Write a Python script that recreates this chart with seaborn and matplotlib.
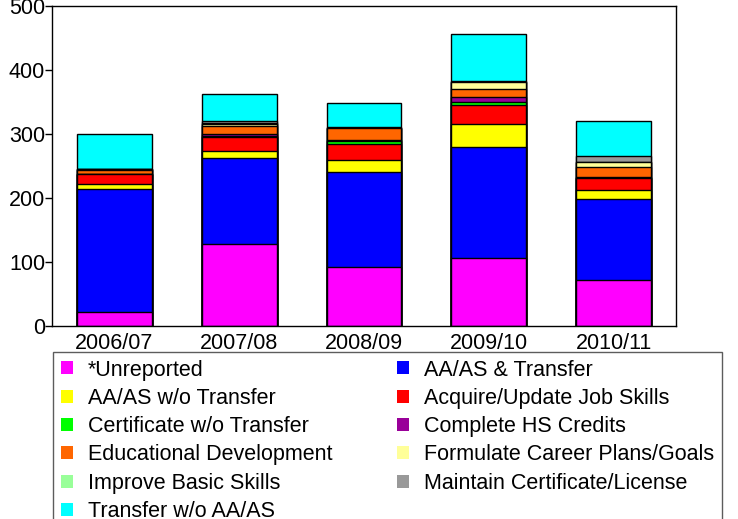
"""Stacked bars of students by educational goal, one bar per academic year."""

import matplotlib.pyplot as plt
import numpy as np
import seaborn as sns
from matplotlib.patches import Patch

years = ["2006/07", "2007/08", "2008/09", "2009/10", "2010/11"]

goal_names = [
    "*Unreported",
    "AA/AS & Transfer",
    "AA/AS w/o Transfer",
    "Acquire/Update Job Skills",
    "Certificate w/o Transfer",
    "Complete HS Credits",
    "Educational Development",
    "Formulate Career Plans/Goals",
    "Improve Basic Skills",
    "Maintain Certificate/License",
    "Transfer w/o AA/AS",
]

unreported = [22, 128, 92, 106, 72]
aa_transfer = [192, 134, 148, 174, 126]
aa_no_transfer = [8, 12, 19, 36, 15]
acquire_skills = [15, 22, 25, 29, 19]
certificate = [1, 1, 5, 5, 0]
hs_credits = [0, 3, 1, 8, 1]
edu_development = [6, 13, 19, 13, 16]
career_plans = [1, 2, 0, 11, 7]
basic_skills = [0, 2, 0, 0, 0]
maintain_cert = [1, 3, 2, 1, 9]
transfer_no_aa = [54, 42, 38, 73, 56]

goal_colors = [
    "#FF00FF", "#0000FF", "#FFFF00", "#FF0000", "#00FF00", "#990099",
    "#FF6600", "#FFFF99", "#99FF99", "#999999", "#00FFFF",
]

series = [
    unreported, aa_transfer, aa_no_transfer, acquire_skills, certificate,
    hs_credits, edu_development, career_plans, basic_skills, maintain_cert,
    transfer_no_aa,
]

sns.set_theme(style="white")
plt.rcParams["font.family"] = ["Liberation Sans", "DejaVu Sans"]
plt.rcParams["text.color"] = "black"

fig = plt.figure(figsize=(7.38, 5.19), dpi=100)
ax = fig.add_axes([52 / 738, 1 - 326 / 519, 624 / 738, 320 / 519])

# stack by drawing cumulative totals from the top down, each one over the last
totals = np.cumsum(np.array(series), axis=0)
for idx in range(len(series) - 1, -1, -1):
    sns.barplot(
        x=years, y=totals[idx], color=goal_colors[idx], saturation=1,
        width=0.6, edgecolor="black", linewidth=1, ax=ax,
    )

ax.set_xlim(-0.5, 4.5)
ax.set_ylim(0, 500)
ax.set_yticks(range(0, 501, 100))
ax.set_xlabel("")
ax.set_ylabel("")
for spine in ax.spines.values():
    spine.set_color("black")
    spine.set_linewidth(1)
ax.tick_params(axis="y", direction="out", length=5, width=1, pad=0,
               labelsize=15.5, colors="black", labelcolor="black", left=True)
ax.tick_params(axis="x", length=0, pad=5, labelsize=15.5, labelcolor="black")

# legend laid out alphabetically across rows, like the original
order = list(range(0, 11, 2)) + list(range(1, 11, 2))
handles = [Patch(facecolor=goal_colors[i], edgecolor="none", label=goal_names[i]) for i in order]
leg = fig.legend(
    handles=handles, loc="upper left", bbox_to_anchor=(53 / 738, 1 - 352 / 519),
    ncol=2, fontsize=15.5, frameon=True, fancybox=False, edgecolor="#333333",
    borderaxespad=0, borderpad=0.35, handlelength=0.56, handleheight=0.56,
    handletextpad=0.7, labelspacing=0.34, columnspacing=3.0,
)
leg.get_frame().set_linewidth(1)
for text in leg.get_texts():
    text.set_color("black")

fig.savefig("out.png", dpi=100)
